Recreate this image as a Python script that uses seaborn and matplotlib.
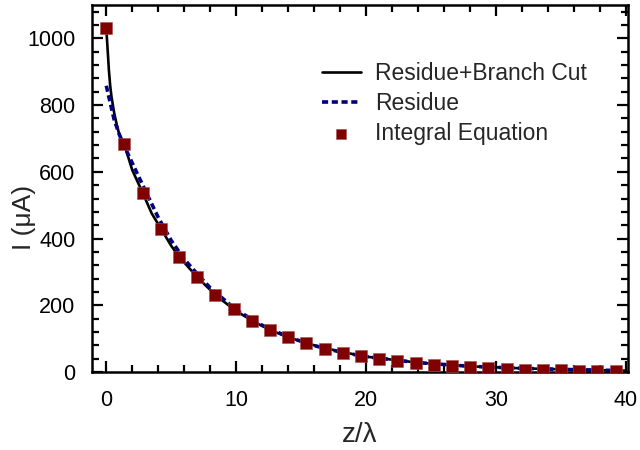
import numpy as np
import pandas as pd
import matplotlib
matplotlib.use("Agg")
import matplotlib.pyplot as plt
from matplotlib.ticker import MultipleLocator
import seaborn as sns

# ---- data ----
x_full = [0, 0.1, 0.2, 0.3, 0.4, 0.6, 0.8, 1.0, 1.4, 2.0, 2.8, 3.5, 4.2, 5.0, 5.6, 7.0,
          8.4, 9.8, 11.2, 12.6, 14, 16, 18, 20, 24, 28, 32, 36, 40]
y_full = [1030, 968, 905, 858, 825, 778, 742, 712, 680, 605, 537, 475, 430, 378, 346, 284,
          231, 188, 154, 126, 104, 80, 61, 46, 28, 17, 11, 7, 4]

x_res = [0, 0.3, 0.6, 1, 1.5, 2, 3, 4, 5, 6, 7, 8, 10, 12, 14, 16, 18, 20, 24, 28, 32, 36, 40]
y_res = [858, 807, 757, 712, 668, 626, 544, 463, 394, 338, 294, 252, 186, 140, 105, 79, 60,
         46, 28, 17, 11, 7, 4]

x_ie = [0, 1.4, 2.8, 4.2, 5.6, 7.0, 8.4, 9.8, 11.2, 12.6, 14.0, 15.4, 16.8, 18.2, 19.6,
        21.0, 22.4, 23.8, 25.2, 26.6, 28.0, 29.4, 30.8, 32.2, 33.6, 35.0, 36.4, 37.8, 39.2]
y_ie = [1030, 682, 536, 429, 346, 284, 231, 188, 154, 125, 105, 86, 70, 58, 48,
        40, 33, 27, 21, 18, 14, 11, 8, 6, 5, 4.5, 3.5, 3, 1.5]

labels = ["Residue+Branch Cut", "Residue", "Integral Equation"]
x_ticks = [0, 10, 20, 30, 40]
y_ticks = [0, 200, 400, 600, 800, 1000]

sns.set_style("ticks")
plt.rcParams["font.family"] = ["Liberation Sans", "DejaVu Sans"]

fig = plt.figure(figsize=(6.4, 4.5), dpi=100)
ax = fig.add_axes([92 / 640, 1 - 372 / 450, (628 - 92) / 640, (372 - 5) / 450])

sns.lineplot(x=x_full, y=y_full, ax=ax, color="black", linewidth=1.9, label=labels[0])
sns.lineplot(x=x_res, y=y_res, ax=ax, color="#000080", linewidth=2.6,
             linestyle=(0, (1.7, 1.0)), label=labels[1])
sns.scatterplot(x=x_ie, y=y_ie, ax=ax, marker="s", s=76, color="#800000",
                edgecolor="#a05050", linewidth=0.4, label=labels[2], zorder=5)

ax.set_xlim(-1.1, 40.15)
ax.set_ylim(0, 1100)
ax.set_xticks(x_ticks)
ax.set_yticks(y_ticks)
ax.xaxis.set_minor_locator(MultipleLocator(2))
ax.yaxis.set_minor_locator(MultipleLocator(40))
ax.tick_params(which="both", direction="in", top=True, right=True, width=1.6,
               colors="black", labelsize=15.5)
ax.tick_params(which="major", length=8)
ax.tick_params(which="minor", length=5)
ax.tick_params(axis="x", which="major", pad=13)
ax.tick_params(axis="y", which="major", pad=12)
for sp in ax.spines.values():
    sp.set_visible(True)
    sp.set_linewidth(1.8)
    sp.set_color("black")

ax.set_xlabel("z/λ", fontsize=20, labelpad=8)
ax.set_ylabel("I (μA)", fontsize=19)
ax.yaxis.set_label_coords(-0.105, 0.42)

leg = ax.legend(loc="upper left", bbox_to_anchor=(322 / 640, 1 - 62 / 450),
                bbox_transform=fig.transFigure, frameon=False, fontsize=16.5,
                handlelength=1.7, handletextpad=0.6, labelspacing=0.3,
                borderpad=0, borderaxespad=0, markerscale=0.8)

fig.savefig("out.png", dpi=100)
